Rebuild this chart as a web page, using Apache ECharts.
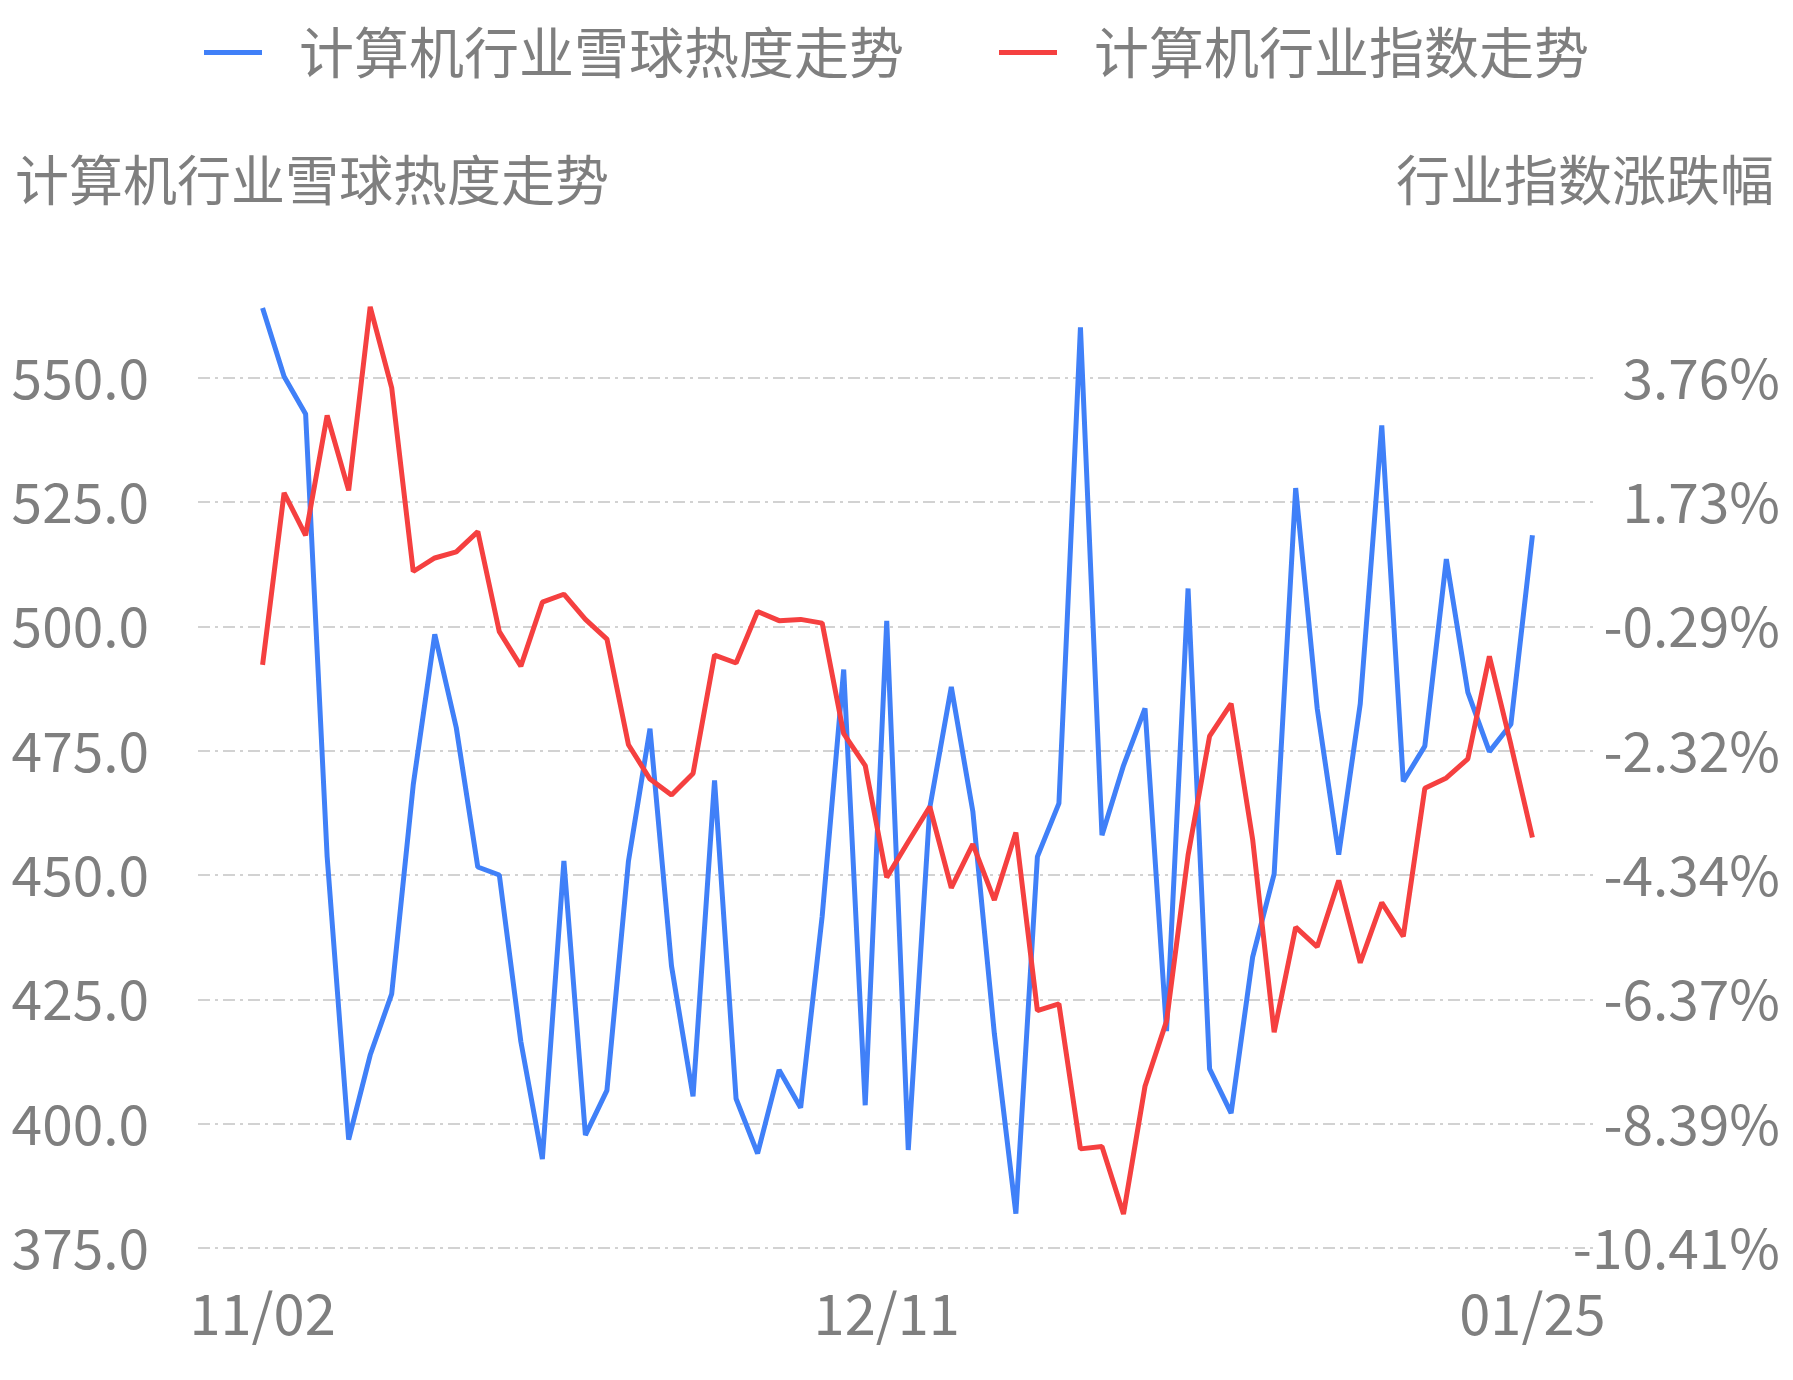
<!DOCTYPE html>
<html><head><meta charset="utf-8">
<script src="https://cdn.jsdelivr.net/npm/echarts@6/dist/echarts.min.js"></script>
<style>html,body{margin:0;padding:0;background:#fff}#c{width:1793px;height:1380px}</style>
</head><body><div id="c"></div>
<script>
const dates = ['11/02','11/03','11/06','11/07','11/08','11/09','11/10','11/13','11/14','11/15','11/16','11/17','11/20','11/21','11/22','11/23','11/24','11/27','11/28','11/29','11/30','12/01','12/04','12/05','12/06','12/07','12/08','12/09','12/10','12/11','12/12','12/13','12/14','12/15','12/18','12/19','12/20','12/21','12/22','12/25','12/26','12/27','12/28','12/29','01/02','01/03','01/04','01/05','01/08','01/09','01/10','01/11','01/12','01/15','01/16','01/17','01/18','01/19','01/22','01/25'];
const heat = [564.0,550.2,542.7,453.7,396.8,413.8,426.1,468.1,498.4,479.6,451.6,450.0,416.5,392.9,452.8,397.7,406.7,452.8,479.4,431.7,405.5,469.0,405.0,394.0,410.8,403.2,441.7,491.3,403.7,501.1,394.7,463.5,487.8,462.8,418.1,381.9,453.7,464.4,560.1,458.0,472.0,483.5,418.6,507.6,411.0,402.1,433.5,450.2,527.8,483.5,454.1,484.4,540.4,468.8,475.9,513.5,486.7,474.8,480.3,518.3];
const index = [-0.92,1.88,1.19,3.14,1.92,4.91,3.59,0.60,0.82,0.92,1.25,-0.38,-0.94,0.10,0.23,-0.18,-0.50,-2.22,-2.78,-3.04,-2.69,-0.76,-0.89,-0.05,-0.20,-0.18,-0.24,-2.04,-2.56,-4.38,-3.80,-3.23,-4.55,-3.84,-4.75,-3.65,-6.55,-6.44,-8.80,-8.76,-9.86,-7.78,-6.72,-4.02,-2.08,-1.55,-3.76,-6.90,-5.19,-5.51,-4.43,-5.77,-4.79,-5.34,-2.93,-2.76,-2.45,-0.78,-2.22,-3.73];
const leftTicks = [375,400,425,450,475,500,525,550];
const rightMin = -10.414, rightStep = 2.0244;
const rightTicks = [0,1,2,3,4,5,6,7].map(k => +(rightMin + k*rightStep).toFixed(4));
const shownLabels = ['11/02','12/11','01/25'];

const pad = 3;
const padArr = a => Array(pad).fill(null).concat(a, Array(pad).fill(null));
const cats = Array(pad).fill('').map((_,i)=>'s'+i).concat(dates, Array(pad).fill('').map((_,i)=>'e'+i));
const grey = '#7f7f7f';
const font = 'Noto Sans CJK SC';
const chart = echarts.init(document.getElementById('c'));
chart.setOption({
  animation:false,
  textStyle:{fontFamily:font},
  title:[
    {text:'计算机行业雪球热度走势', left:10, top:148, textStyle:{fontSize:54, fontWeight:'normal', color:grey, fontFamily:font}},
    {text:'行业指数涨跌幅', right:14, top:148, textStyle:{fontSize:54, fontWeight:'normal', color:grey, fontFamily:font}}
  ],
  legend:{top:20, left:'center', itemWidth:58, itemHeight:5, itemGap:95,
    textStyle:{fontSize:55, color:grey, fontFamily:font, padding:[0,0,0,32]},
    data:[{name:'计算机行业雪球热度走势', icon:'rect'},{name:'计算机行业指数走势', icon:'rect'}]},
  grid:{left:198, right:196, top:303, bottom:132, containLabel:false},
  xAxis:{type:'category', data:cats, boundaryGap:false,
    axisLine:{show:false}, axisTick:{show:false}, splitLine:{show:false},
    axisLabel:{interval:0, margin:38, fontSize:56, color:grey, fontFamily:font,
      formatter:v => shownLabels.includes(v) ? v : ''}},
  yAxis:[
    {type:'value', min:375, max:565, interval:25, position:'left',
      axisLine:{show:false}, axisTick:{show:false},
      splitLine:{show:true, showMaxLine:false, lineStyle:{color:'#c4c4c4', width:1.5, type:[12,5,3,5]}},
      axisLabel:{margin:49, fontSize:55, color:grey, fontFamily:font,
        customValues:leftTicks, formatter:v=>v.toFixed(1)}},
    {type:'value', min:rightMin, max:rightMin+7.6*rightStep, position:'right',
      axisLine:{show:false}, axisTick:{show:false}, splitLine:{show:false},
      axisLabel:{margin:183, align:'right', fontSize:55, color:grey, fontFamily:font,
        customValues:rightTicks, formatter:v=>v.toFixed(2)+'%'}}
  ],
  series:[
    {name:'计算机行业雪球热度走势', type:'line', yAxisIndex:0, data:padArr(heat), showSymbol:false, symbol:'none',
      lineStyle:{width:5, color:'#4080f8'}, itemStyle:{color:'#4080f8'}},
    {name:'计算机行业指数走势', type:'line', yAxisIndex:1, data:padArr(index), showSymbol:false, symbol:'none',
      lineStyle:{width:5, color:'#f54040'}, itemStyle:{color:'#f54040'}}
  ]
});
</script></body></html>
